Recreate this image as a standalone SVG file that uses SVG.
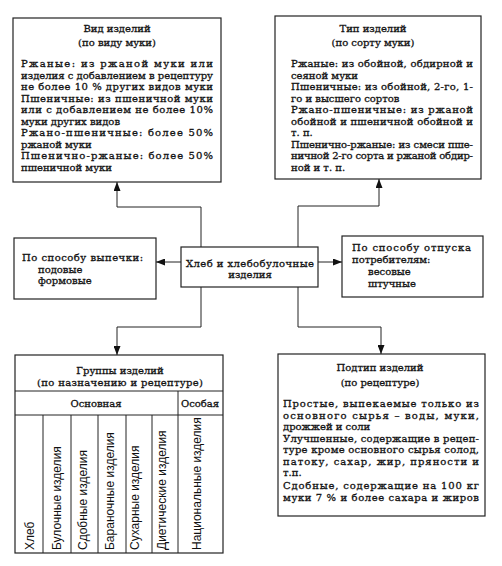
<svg xmlns="http://www.w3.org/2000/svg" width="502" height="566" viewBox="0 0 502 566">
<defs>
<marker id="ah" markerUnits="userSpaceOnUse" markerWidth="10" markerHeight="7" refX="9" refY="3.5" orient="auto">
<path d="M0,0 L9,3.5 L0,7 z" fill="#111"/>
</marker>
<style>
.box{fill:#fff;stroke:#222;stroke-width:1.2}
.ln{fill:none;stroke:#222;stroke-width:1}
.t{font-family:"DejaVu Serif","Liberation Serif",serif;font-size:10px;fill:#111;stroke:#111;stroke-width:0.3}
.tc{text-anchor:middle}
.s{font-family:"Liberation Sans",Arial,sans-serif;font-size:12px;fill:#111}
</style>
</defs>
<rect width="502" height="566" fill="#fff"/>

<g id="connectors">
<path class="ln" d="M201,248 V207 H117 V182" marker-end="url(#ah)"/>
<path class="ln" d="M298,248 V206 H379 V179" marker-end="url(#ah)"/>
<path class="ln" d="M181,262 H156" marker-end="url(#ah)"/>
<path class="ln" d="M318,262 H342" marker-end="url(#ah)"/>
<path class="ln" d="M201,287 V327 H117 V355" marker-end="url(#ah)"/>
<path class="ln" d="M298,287 V327 H381 V354" marker-end="url(#ah)"/>
</g>

<g id="vid">
<rect class="box" x="13" y="18" width="208" height="164"/>
<text class="t tc" x="117" y="32">Вид изделий</text>
<text class="t tc" x="117" y="46">(по виду муки)</text>
<text class="t" x="21" y="67" textLength="192" lengthAdjust="spacing">Ржаные: из ржаной муки или</text>
<text class="t" x="21" y="78.5" textLength="192" lengthAdjust="spacing">изделия с добавлением в рецептуру</text>
<text class="t" x="21" y="90" textLength="192" lengthAdjust="spacing">не более 10 % других видов муки</text>
<text class="t" x="21" y="101.5" textLength="192" lengthAdjust="spacing">Пшеничные: из пшеничной муки</text>
<text class="t" x="21" y="113" textLength="192" lengthAdjust="spacing">или с добавлением не более 10%</text>
<text class="t" x="21" y="124.5">муки других видов</text>
<text class="t" x="21" y="136" textLength="192" lengthAdjust="spacing">Ржано-пшеничные: более 50%</text>
<text class="t" x="21" y="147.5">ржаной муки</text>
<text class="t" x="21" y="159" textLength="192" lengthAdjust="spacing">Пшенично-ржаные: более 50%</text>
<text class="t" x="21" y="170.5">пшеничной муки</text>
</g>

<g id="tip">
<rect class="box" x="275" y="16" width="206" height="163"/>
<text class="t tc" x="373" y="32">Тип изделий</text>
<text class="t tc" x="373" y="46">(по сорту муки)</text>
<text class="t" x="291" y="67" textLength="182" lengthAdjust="spacing">Ржаные: из обойной, обдирной и</text>
<text class="t" x="291" y="78.5">сеяной муки</text>
<text class="t" x="291" y="90" textLength="182" lengthAdjust="spacing">Пшеничные: из обойной, 2-го, 1-</text>
<text class="t" x="291" y="101.5">го и высшего сортов</text>
<text class="t" x="291" y="113" textLength="182" lengthAdjust="spacing">Ржано-пшеничные: из ржаной</text>
<text class="t" x="291" y="124.5" textLength="182" lengthAdjust="spacing">обойной и пшеничной обойной и</text>
<text class="t" x="291" y="136">т. п.</text>
<text class="t" x="291" y="147.5" textLength="182" lengthAdjust="spacing">Пшенично-ржаные: из смеси пше-</text>
<text class="t" x="291" y="159" textLength="182" lengthAdjust="spacing">ничной 2-го сорта и ржаной обдир-</text>
<text class="t" x="291" y="170.5">ной и т. п.</text>
</g>

<g id="center">
<rect class="box" x="181" y="247" width="137" height="40"/>
<text class="t tc" x="250" y="266.5" textLength="128" lengthAdjust="spacing">Хлеб и хлебобулочные</text>
<text class="t tc" x="250" y="278">изделия</text>
</g>

<g id="vypechka">
<rect class="box" x="14" y="238" width="142" height="61"/>
<text class="t" x="22" y="261" textLength="121" lengthAdjust="spacing">По способу выпечки:</text>
<text class="t" x="38" y="272.5">подовые</text>
<text class="t" x="38" y="284">формовые</text>
</g>

<g id="otpusk">
<rect class="box" x="342" y="236" width="141" height="61"/>
<text class="t" x="352" y="251" textLength="119" lengthAdjust="spacing">По способу отпуска</text>
<text class="t" x="352" y="262.5">потребителям:</text>
<text class="t" x="368" y="275">весовые</text>
<text class="t" x="368" y="286.5">штучные</text>
</g>

<g id="gruppy">
<rect class="box" x="15" y="355" width="208" height="198"/>
<text class="t tc" x="120" y="374">Группы изделий</text>
<text class="t tc" x="120" y="386" textLength="166" lengthAdjust="spacing">(по назначению и рецептуре)</text>
<path class="ln" d="M15,391 H223 M15,415 H223 M178,391 V553 M43,415 V553 M71,415 V553 M98,415 V553 M126,415 V553 M152,415 V553"/>
<text class="t tc" x="96" y="407">Основная</text>
<text class="t tc" x="200" y="407">Особая</text>
<text class="s" transform="translate(34,550) rotate(-90)">Хлеб</text>
<text class="s" transform="translate(61,550) rotate(-90)">Булочные изделия</text>
<text class="s" transform="translate(87,550) rotate(-90)">Сдобные изделия</text>
<text class="s" transform="translate(114,550) rotate(-90)">Бараночные изделия</text>
<text class="s" transform="translate(139,550) rotate(-90)">Сухарные изделия</text>
<text class="s" transform="translate(166,550) rotate(-90)">Диетические изделия</text>
<text class="s" transform="translate(201,550) rotate(-90)">Национальные изделия</text>
</g>

<g id="podtip">
<rect class="box" x="278" y="354" width="207" height="162"/>
<text class="t tc" x="380" y="371">Подтип изделий</text>
<text class="t tc" x="380" y="385.5">(по рецептуре)</text>
<text class="t" x="283" y="407" textLength="196" lengthAdjust="spacing">Простые, выпекаемые только из</text>
<text class="t" x="283" y="418.5" textLength="196" lengthAdjust="spacing">основного сырья – воды, муки,</text>
<text class="t" x="283" y="430">дрожжей и соли</text>
<text class="t" x="283" y="441.5" textLength="196" lengthAdjust="spacing">Улучшенные, содержащие в рецеп-</text>
<text class="t" x="283" y="453" textLength="196" lengthAdjust="spacing">туре кроме основного сырья солод,</text>
<text class="t" x="283" y="464.5" textLength="196" lengthAdjust="spacing">патоку, сахар, жир, пряности и</text>
<text class="t" x="283" y="476">т.п.</text>
<text class="t" x="283" y="489" textLength="196" lengthAdjust="spacing">Сдобные, содержащие на 100 кг</text>
<text class="t" x="283" y="500.5" textLength="196" lengthAdjust="spacing">муки 7 % и более сахара и жиров</text>
</g>
</svg>
